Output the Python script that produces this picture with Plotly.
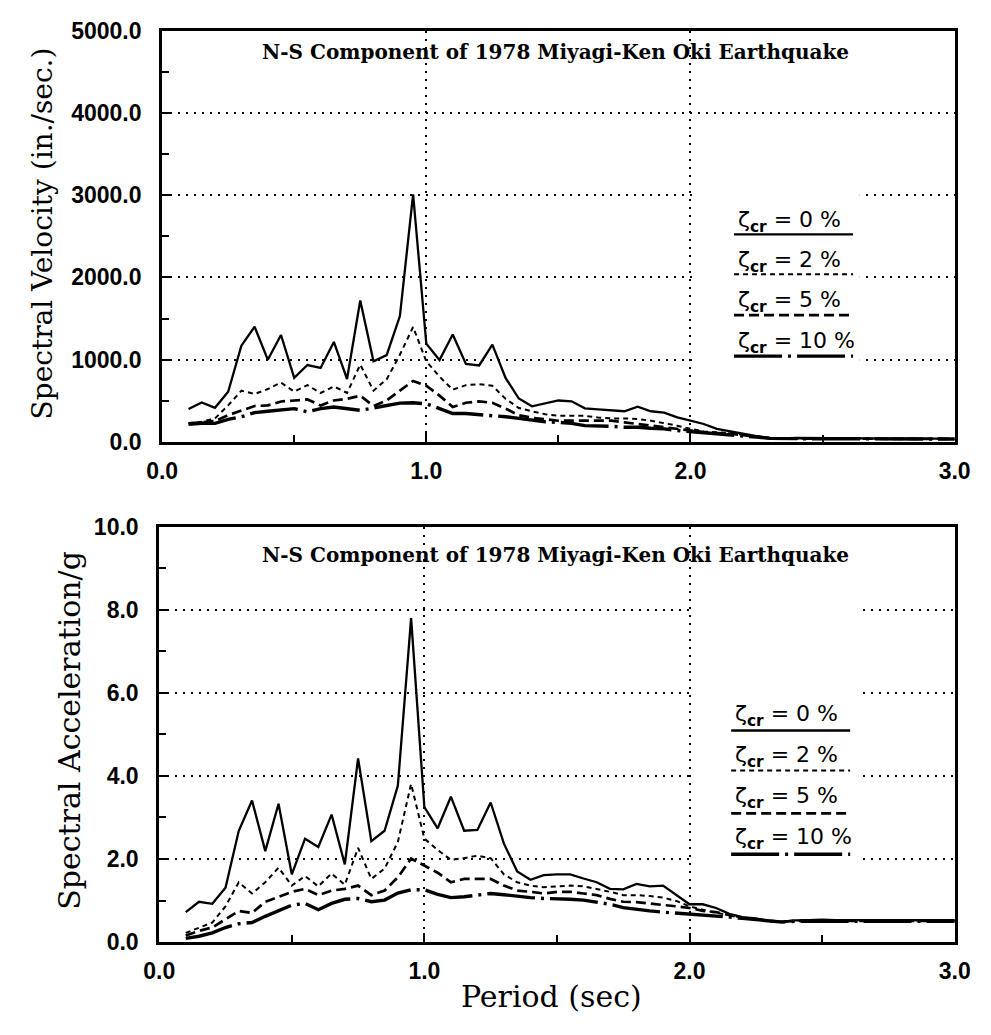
import plotly.graph_objects as go

# ---------------- data ----------------
period = [0.10, 0.15, 0.20, 0.25, 0.30, 0.35, 0.40, 0.45, 0.50, 0.55,
          0.60, 0.65, 0.70, 0.75, 0.80, 0.85, 0.90, 0.95, 1.00, 1.05,
          1.10, 1.15, 1.20, 1.25, 1.30, 1.35, 1.40, 1.45, 1.50, 1.55,
          1.60, 1.65, 1.70, 1.75, 1.80, 1.85, 1.90, 1.95, 2.00, 2.05,
          2.10, 2.15, 2.20, 2.25, 2.30, 2.35, 2.40, 2.45, 2.50, 2.55,
          2.60, 2.65, 2.70, 2.75, 2.80, 2.85, 2.90, 2.95, 3.00]

sv_0 = [400, 480, 415, 610, 1170, 1400, 1000, 1300, 780, 935,
        900, 1215, 765, 1720, 980, 1055, 1530, 3010, 1195, 995,
        1305, 948, 930, 1182, 778, 528, 433, 466, 504, 494,
        409, 397, 385, 373, 429, 373, 357, 298, 258, 218,
        159, 127, 99, 71, 50, 42, 48, 46, 45, 44,
        44, 43, 42, 42, 41, 41, 40, 40, 40]
sv_2 = [226, 246, 286, 444, 623, 583, 643, 722, 611, 690,
        595, 675, 595, 940, 623, 762, 1060, 1397, 980, 794,
        635, 690, 702, 683, 524, 413, 371, 337, 317, 317,
        317, 298, 286, 286, 278, 258, 230, 198, 159, 127,
        117, 108, 86, 63, 47, 40, 44, 43, 42, 42,
        41, 41, 40, 40, 39, 39, 38, 38, 38]
sv_5 = [226, 238, 254, 325, 385, 437, 444, 492, 504, 516,
        444, 504, 524, 563, 437, 504, 623, 742, 683, 563,
        425, 476, 492, 476, 405, 325, 294, 278, 258, 258,
        258, 258, 258, 238, 218, 206, 179, 159, 139, 119,
        108, 100, 82, 60, 45, 39, 42, 41, 40, 40,
        39, 39, 38, 38, 37, 37, 36, 36, 36]
sv_10 = [214, 226, 226, 274, 306, 357, 373, 385, 405, 365,
         405, 425, 405, 385, 413, 444, 472, 476, 464, 405,
         345, 345, 333, 325, 306, 286, 266, 246, 238, 226,
         198, 198, 190, 179, 179, 167, 159, 139, 127, 111,
         99, 92, 78, 58, 44, 38, 40, 39, 38, 38,
         37, 37, 36, 36, 35, 35, 34, 34, 34]

sa_0 = [0.72, 0.97, 0.92, 1.31, 2.68, 3.41, 2.19, 3.33, 1.63, 2.49,
        2.29, 3.07, 1.87, 4.42, 2.43, 2.68, 3.77, 7.80, 3.25, 2.74,
        3.50, 2.68, 2.70, 3.36, 2.37, 1.70, 1.50, 1.61, 1.63, 1.63,
        1.53, 1.44, 1.28, 1.27, 1.40, 1.34, 1.36, 1.13, 0.91, 0.91,
        0.82, 0.68, 0.60, 0.57, 0.51, 0.49, 0.52, 0.53, 0.54, 0.53,
        0.53, 0.53, 0.53, 0.53, 0.53, 0.53, 0.53, 0.53, 0.53]
sa_2 = [0.22, 0.35, 0.47, 0.86, 1.44, 1.17, 1.44, 1.79, 1.36, 1.59,
        1.34, 1.65, 1.38, 2.27, 1.52, 1.77, 2.41, 3.81, 2.49, 2.22,
        1.98, 2.02, 2.08, 2.02, 1.63, 1.44, 1.36, 1.32, 1.34, 1.36,
        1.34, 1.28, 1.21, 1.13, 1.13, 1.11, 1.07, 0.99, 0.86, 0.78,
        0.70, 0.65, 0.58, 0.55, 0.51, 0.49, 0.51, 0.52, 0.52, 0.52,
        0.52, 0.52, 0.52, 0.52, 0.52, 0.52, 0.52, 0.52, 0.52]
sa_5 = [0.16, 0.27, 0.35, 0.56, 0.75, 0.70, 0.97, 1.09, 1.21, 1.28,
        1.13, 1.24, 1.28, 1.36, 1.13, 1.24, 1.56, 2.01, 1.83, 1.67,
        1.44, 1.52, 1.52, 1.52, 1.36, 1.24, 1.21, 1.17, 1.21, 1.21,
        1.17, 1.13, 1.04, 0.97, 0.96, 0.93, 0.89, 0.86, 0.82, 0.75,
        0.72, 0.65, 0.58, 0.55, 0.51, 0.49, 0.51, 0.51, 0.51, 0.51,
        0.51, 0.51, 0.51, 0.51, 0.51, 0.51, 0.51, 0.51, 0.51]
sa_10 = [0.09, 0.14, 0.22, 0.35, 0.44, 0.47, 0.62, 0.76, 0.89, 0.93,
         0.78, 0.93, 1.03, 1.05, 0.97, 1.01, 1.18, 1.26, 1.26, 1.15,
         1.07, 1.09, 1.13, 1.17, 1.14, 1.10, 1.07, 1.05, 1.05, 1.03,
         1.01, 0.97, 0.91, 0.83, 0.78, 0.75, 0.72, 0.70, 0.66, 0.65,
         0.62, 0.60, 0.57, 0.54, 0.50, 0.48, 0.50, 0.50, 0.50, 0.50,
         0.50, 0.50, 0.50, 0.50, 0.50, 0.50, 0.50, 0.50, 0.50]

damping_labels = ["0", "2", "5", "10"]
title_text = "N-S Component of 1978 Miyagi-Ken Oki Earthquake"
sv_ticks = [0, 1000, 2000, 3000, 4000, 5000]
sa_ticks = [0, 2, 4, 6, 8, 10]
x_ticks = [0, 1, 2, 3]

# ---------------- styles ----------------
W, H = 991, 1035
styles = [dict(dash="solid", width=2.3),
          dict(dash="5px,4px", width=2.0),
          dict(dash="10px,5px", width=2.7),
          dict(dash="48px,6px,3px,6px", width=3.4)]

def pxx(x):
    return x / W

def pxy(y):
    return 1 - y / H

fig = go.Figure()

sv_series = [sv_0, sv_2, sv_5, sv_10]
sa_series = [sa_0, sa_2, sa_5, sa_10]
for lab, ys, st in zip(damping_labels, sv_series, styles):
    fig.add_trace(go.Scatter(x=period, y=ys, mode="lines", xaxis="x", yaxis="y",
                             line=dict(color="black", **st), showlegend=False,
                             name=f"ζcr = {lab} %"))
for lab, ys, st in zip(damping_labels, sa_series, styles):
    fig.add_trace(go.Scatter(x=period, y=ys, mode="lines", xaxis="x2", yaxis="y2",
                             line=dict(color="black", **st), showlegend=False,
                             name=f"ζcr = {lab} %"))

tickfont = dict(family="Liberation Sans", size=23, color="black", weight="bold")
common_x = dict(range=[0, 3], tickvals=x_ticks, ticktext=[f"{v:.1f}" for v in x_ticks],
                ticks="inside", ticklen=9, tickwidth=2, tickcolor="black",
                minor=dict(dtick=0.5, tick0=0, ticks="inside", ticklen=7, tickwidth=2,
                           tickcolor="black", showgrid=False),
                showgrid=True, gridcolor="black", gridwidth=1.5, griddash="2px,6px",
                showline=True, linewidth=3, linecolor="black", mirror=True,
                zeroline=False, tickfont=tickfont, ticklabelstandoff=6)
common_y = dict(ticks="inside", ticklen=9, tickwidth=2, tickcolor="black",
                showgrid=True, gridcolor="black", gridwidth=1.5, griddash="2px,6px",
                showline=True, linewidth=3, linecolor="black", mirror=True,
                zeroline=False, tickfont=tickfont, ticklabelstandoff=13)

fig.update_layout(
    width=W, height=H,
    margin=dict(l=0, r=0, t=0, b=0),
    paper_bgcolor="white", plot_bgcolor="white",
    xaxis=dict(domain=[pxx(151), pxx(970)], anchor="y", **common_x),
    yaxis=dict(domain=[pxy(440), pxy(18)], anchor="x", range=[0, 5000],
               tickvals=sv_ticks, ticktext=[f"{v:.1f}" for v in sv_ticks],
               minor=dict(dtick=500, tick0=0, ticks="inside", ticklen=7, tickwidth=2,
                          tickcolor="black", showgrid=False),
               **common_y),
    xaxis2=dict(domain=[pxx(148), pxx(970)], anchor="y2", **common_x),
    yaxis2=dict(domain=[pxy(953), pxy(527)], anchor="x2", range=[0, 10],
                tickvals=sa_ticks, ticktext=[f"{v:.1f}" for v in sa_ticks],
                minor=dict(dtick=1, tick0=0, ticks="inside", ticklen=7, tickwidth=2,
                           tickcolor="black", showgrid=False),
                **common_y),
)

shapes = []
annotations = []

# white boxes behind legends (they interrupt the gridlines)
for (x0, x1, y0, y1) in [(704, 872, 172, 370), (700, 872, 600, 880)]:
    shapes.append(dict(type="rect", xref="paper", yref="paper",
                       x0=pxx(x0), x1=pxx(x1), y0=pxy(y1), y1=pxy(y0),
                       fillcolor="white", line=dict(width=0), layer="above"))

legend_font = dict(family="DejaVu Sans", size=22, color="black")
for text_rows, line_rows, lx0, lx1 in [
        ([214, 255, 296, 338], [227, 268, 310, 352], 742, 865),
        ([721, 763, 805, 847], [736, 777, 821, 863], 739, 862)]:
    for lab, ty, ly, st in zip(damping_labels, text_rows, line_rows, styles):
        annotations.append(dict(xref="paper", yref="paper", x=pxx(lx0 + 2), y=pxy(ty),
                                xanchor="left", yanchor="middle", showarrow=False,
                                text=f"ζ<sub><b>cr</b></sub> = {lab} %", font=legend_font))
        shapes.append(dict(type="line", xref="paper", yref="paper",
                           x0=pxx(lx0), x1=pxx(lx1), y0=pxy(ly), y1=pxy(ly),
                           line=dict(color="black", width=st["width"], dash=st["dash"]),
                           layer="above"))

title_font = dict(family="DejaVu Serif", size=20, color="black", weight="bold")
for ty in [40, 556]:
    annotations.append(dict(xref="paper", yref="paper", x=pxx(557), y=pxy(ty),
                            xanchor="center", yanchor="middle", showarrow=False,
                            text=title_text, font=title_font))

annotations.append(dict(xref="paper", yref="paper", x=pxx(27), y=pxy(226),
                        xanchor="center", yanchor="middle", showarrow=False, textangle=-90,
                        text="Spectral Velocity (in./sec.)",
                        font=dict(family="DejaVu Serif", size=28, color="black")))
annotations.append(dict(xref="paper", yref="paper", x=pxx(55), y=pxy(736),
                        xanchor="center", yanchor="middle", showarrow=False, textangle=-90,
                        text="Spectral Acceleration/g",
                        font=dict(family="DejaVu Serif", size=30, color="black")))
annotations.append(dict(xref="paper", yref="paper", x=pxx(553), y=pxy(1009),
                        xanchor="center", yanchor="middle", showarrow=False,
                        text="Period (sec)",
                        font=dict(family="DejaVu Serif", size=30, color="black")))

fig.update_layout(shapes=shapes, annotations=annotations)
fig.write_html("out.html")
